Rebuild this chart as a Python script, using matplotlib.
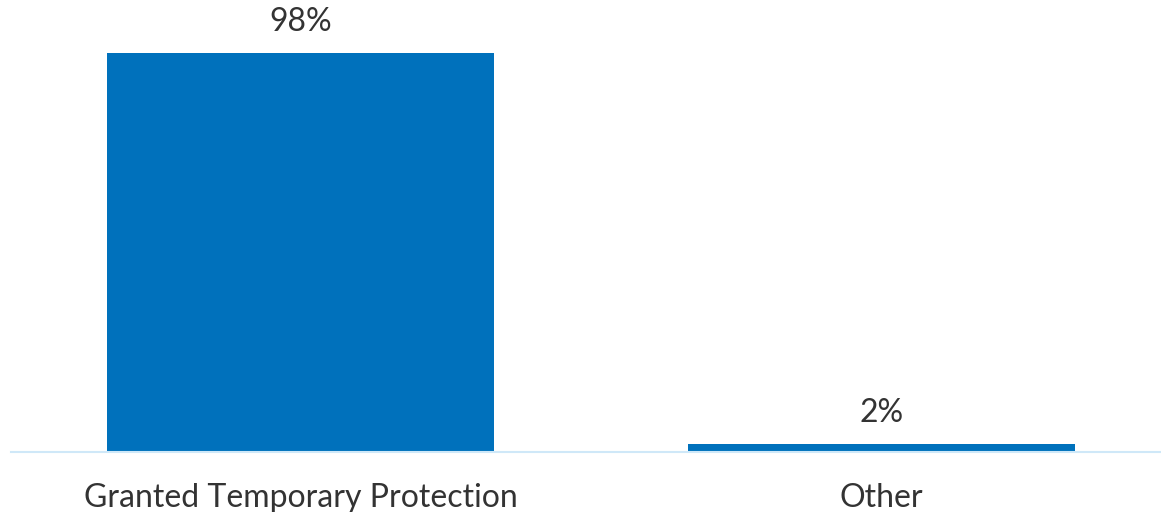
import matplotlib
matplotlib.use('Agg')
import matplotlib.pyplot as plt

# data
categories = ['Granted Temporary Protection', 'Other']
values = [98, 2]
labels = ['98%', '2%']

plt.rcParams['font.family'] = ['Lato', 'DejaVu Sans']

W, H = 1161, 512
fig = plt.figure(figsize=(W / 100, H / 100), dpi=100)
ax = fig.add_axes([11 / W, 60 / H, 1 - 11 / W, 1 - 60 / H])

x = range(len(categories))
ax.bar(x, values, width=0.667, color='#0071BC')
for i, v in enumerate(values):
    ax.text(i, v + 7.5, labels[i], ha='center', va='center', fontsize=23, color='#333333')

ax.set_xlim(-0.4987, 1.482)
ax.set_ylim(0, 111)
ax.set_xticks(list(x))
ax.set_xticklabels(categories, fontsize=23, color='#333333')
ax.tick_params(axis='x', length=0, pad=22)
ax.set_yticks([])
for s in ['top', 'right', 'left']:
    ax.spines[s].set_visible(False)
ax.spines['bottom'].set_color('#CFE8F8')
ax.spines['bottom'].set_linewidth(1.5)

fig.savefig('out.png', dpi=100)
